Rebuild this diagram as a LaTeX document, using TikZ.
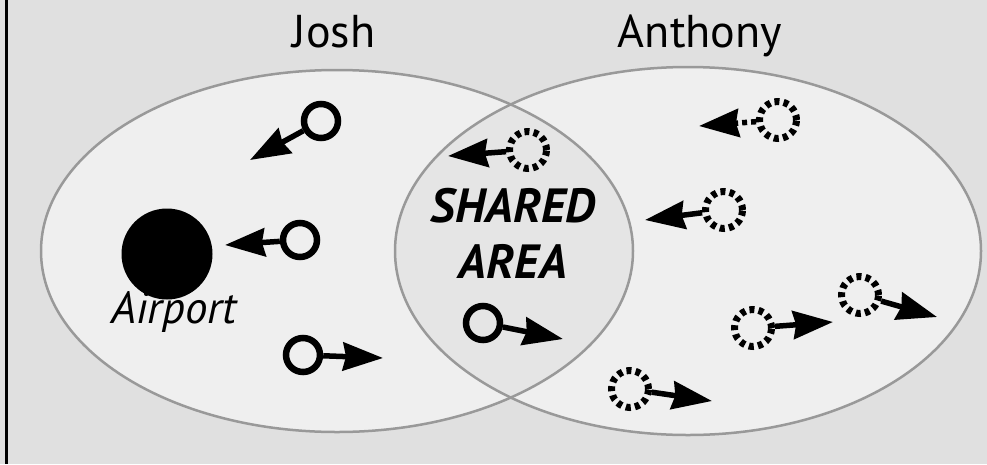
\documentclass[tikz,border=0pt]{standalone}
\usepackage{fontspec}
\setmainfont{PT Sans}
\usetikzlibrary{arrows.meta}
\definecolor{bgcol}{HTML}{E0E0E0}
\definecolor{setfill}{HTML}{EFEFEF}
\definecolor{lensfill}{HTML}{E5E5E5}
\definecolor{setline}{HTML}{999999}
\tikzset{
  ring/.style={circle, draw=black, line width=6.5pt, minimum size=34pt, inner sep=0pt},
  dring/.style={ring, line width=7pt, minimum size=37pt, dash pattern=on 5pt off 4.2pt},
  move/.style={line width=5.5pt, -{Stealth[length=40pt,width=28pt,inset=3pt]}},
  setname/.style={font=\fontsize{46}{52}\selectfont, anchor=base},
  sharedtext/.style={font=\fontsize{48}{54}\selectfont\bfseries\itshape, anchor=base},
}
\begin{document}
\begin{tikzpicture}[x=1pt,y=-1pt]
  % canvas
  \fill[bgcol] (0,0) rectangle (987,464);
  \useasboundingbox (0,0) rectangle (987,464);
  \fill[black] (4.5,0) rectangle (7.5,464);
  % the two sets
  \def\joshset{(337,251) ellipse [x radius=296, y radius=181]}
  \def\anthset{(688,251) ellipse [x radius=293, y radius=184]}
  \fill[setfill] \joshset;
  \fill[setfill] \anthset;
  \begin{scope}
    \clip \joshset;
    \fill[lensfill] \anthset;
  \end{scope}
  \draw[setline, line width=2.5pt] \joshset;
  \draw[setline, line width=2.5pt] \anthset;
  % labels
  \node[setname] (josh) at (334,47) {Josh};
  \node[setname] (anthony) at (700,47) {Anthony};
  \node[sharedtext] (shared) at (513,222) {SHARED};
  \node[sharedtext] (area) at (513,278) {AREA};
  % airport
  \node[circle, fill=black, minimum size=91pt, inner sep=0pt] (airport) at (167,254) {};
  \node[font=\fontsize{45}{50}\selectfont\itshape, anchor=base] (airlabel) at (174,323) {Airport};
  % Josh's aircraft
  \node[ring] (j1) at (321,121) {};
  \coordinate (j1t) at (250,160);
  \draw[move] (j1) -- (j1t);
  \node[ring] (j2) at (300,240) {};
  \coordinate (j2t) at (225,245);
  \draw[move] (j2) -- (j2t);
  \node[ring] (j3) at (303,355) {};
  \coordinate (j3t) at (383,358);
  \draw[move] (j3) -- (j3t);
  \node[ring] (s2) at (483,323) {};
  \coordinate (s2t) at (563,339);
  \draw[move] (s2) -- (s2t);
  % Anthony's aircraft
  \node[dring] (s1) at (528,150) {};
  \coordinate (s1t) at (448,156);
  \draw[move] (s1) -- (s1t);
  \node[dring] (a1) at (778,120) {};
  \coordinate (a1t) at (699,126);
  \draw[move, dash pattern=on 5pt off 4pt] (a1) -- (a1t);
  \node[dring] (a2) at (724,210) {};
  \coordinate (a2t) at (645,220);
  \draw[move] (a2) -- (a2t);
  \node[dring] (a3) at (860,295) {};
  \coordinate (a3t) at (937,317);
  \draw[move] (a3) -- (a3t);
  \node[dring] (a4) at (753,328) {};
  \coordinate (a4t) at (833,322);
  \draw[move] (a4) -- (a4t);
  \node[dring] (a5) at (630,389) {};
  \coordinate (a5t) at (712,401);
  \draw[move] (a5) -- (a5t);
\end{tikzpicture}
\end{document}
